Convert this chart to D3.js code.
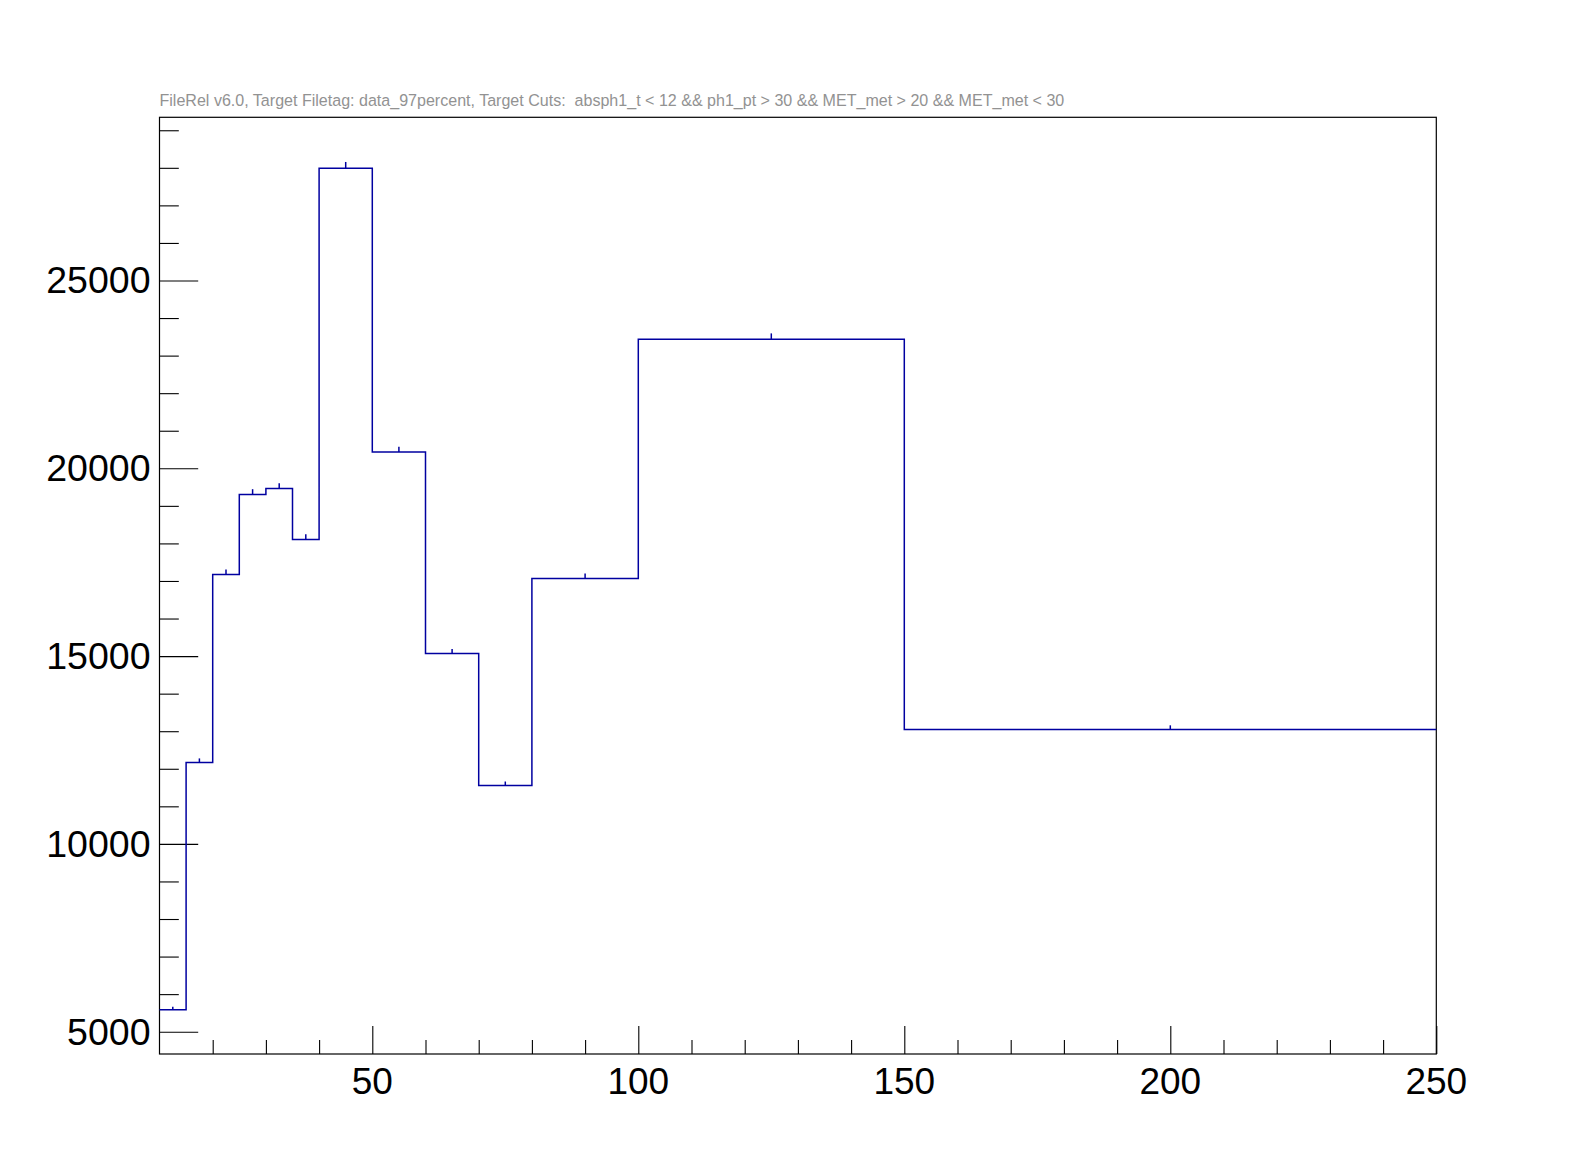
<!DOCTYPE html>
<html>
<head>
<meta charset="utf-8">
<script src="https://cdn.jsdelivr.net/npm/d3@7"></script>
<style>
  html, body { margin: 0; padding: 0; background: #fff; }
  svg { display: block; }
  text { font-family: "Liberation Sans", Arial, Helvetica, sans-serif; }
</style>
</head>
<body>
<svg id="chart" width="1596" height="1172"></svg>
<script>
// ---- data ----
const binEdges = [10, 15, 20, 25, 30, 35, 40, 50, 60, 70, 80, 100, 150, 250];
const binValues = [5586, 12166, 17174, 19305, 19465, 18106, 27989, 20432, 15069, 11553, 17067, 23439, 13043];
const binErrors = [75, 110, 131, 139, 140, 135, 167, 143, 123, 108, 131, 153, 114];
const xMajorTicks = [50, 100, 150, 200, 250];
const xMinorTicks = [20, 30, 40, 60, 70, 80, 90, 110, 120, 130, 140, 160, 170, 180, 190, 210, 220, 230, 240];
const yMajorTicks = [5000, 10000, 15000, 20000, 25000];
const yMinorTicks = [6000, 7000, 8000, 9000, 11000, 12000, 13000, 14000, 16000, 17000, 18000, 19000, 21000, 22000, 23000, 24000, 26000, 27000, 28000, 29000];
const xDomain = [10, 250];
const yDomain = [4406, 29345];
const titleText = "FileRel v6.0, Target Filetag: data_97percent, Target Cuts:  absph1_t < 12 && ph1_pt > 30 && MET_met > 20 && MET_met < 30";

// ---- layout ----
const frame = { left: 159.5, right: 1436.3, top: 117.3, bottom: 1054 };
const svg = d3.select("#chart");
svg.append("rect").attr("x", 0).attr("y", 0).attr("width", 1596).attr("height", 1172).attr("fill", "#fff");

const x = d3.scaleLinear().domain(xDomain).range([frame.left, frame.right]);
const y = d3.scaleLinear().domain(yDomain).range([frame.bottom, frame.top]);

// frame
svg.append("rect")
  .attr("x", frame.left).attr("y", frame.top)
  .attr("width", frame.right - frame.left).attr("height", frame.bottom - frame.top)
  .attr("fill", "none").attr("stroke", "#000").attr("stroke-width", 1.2);

// x axis ticks (pointing up into the frame)
const gx = svg.append("g").attr("transform", `translate(0,${frame.bottom})`);
gx.call(d3.axisBottom(x).tickValues(xMinorTicks).tickSize(-14).tickFormat(""));
gx.append("g").call(d3.axisBottom(x).tickValues(xMajorTicks).tickSize(-28).tickFormat(""));
gx.selectAll(".domain").remove();
gx.selectAll("line").attr("stroke", "#000").attr("stroke-width", 1.1);

// x labels
svg.append("g").selectAll("text").data(xMajorTicks).join("text")
  .attr("x", d => x(d)).attr("y", frame.bottom + 40)
  .attr("text-anchor", "middle").attr("font-size", 37).attr("fill", "#000")
  .text(d => d);

// y axis ticks (pointing right into the frame)
const gy = svg.append("g").attr("transform", `translate(${frame.left},0)`);
gy.call(d3.axisLeft(y).tickValues(yMinorTicks).tickSize(-19.3).tickFormat(""));
gy.append("g").call(d3.axisLeft(y).tickValues(yMajorTicks).tickSize(-38.7).tickFormat(""));
gy.selectAll(".domain").remove();
gy.selectAll("line").attr("stroke", "#000").attr("stroke-width", 1.1);

// y labels
svg.append("g").selectAll("text").data(yMajorTicks).join("text")
  .attr("x", 150.5).attr("y", d => y(d) + 13)
  .attr("text-anchor", "end").attr("font-size", 37.5).attr("fill", "#000")
  .text(d => d);

// histogram step line
const bins = binValues.map((v, i) => ({ x0: binEdges[i], x1: binEdges[i + 1], v, e: binErrors[i] }));
let pathD = "";
bins.forEach((b, i) => {
  if (i === 0) pathD += `M${x(b.x0)},${y(b.v)}`;
  else pathD += `L${x(b.x0)},${y(b.v)}`;
  pathD += `L${x(b.x1)},${y(b.v)}`;
});
svg.append("path").attr("d", pathD)
  .attr("fill", "none").attr("stroke", "#0000a0").attr("stroke-width", 1.5);

// error ticks at bin centres
svg.append("g").selectAll("line").data(bins).join("line")
  .attr("x1", d => x((d.x0 + d.x1) / 2)).attr("x2", d => x((d.x0 + d.x1) / 2))
  .attr("y1", d => y(d.v)).attr("y2", d => y(d.v + d.e))
  .attr("stroke", "#0000a0").attr("stroke-width", 1.5);

// title
const t = svg.append("text")
  .attr("x", 159.5).attr("y", 105.5)
  .attr("font-size", 14).attr("fill", "#929292")
  .attr("xml:space", "preserve").style("white-space", "pre")
  .text(titleText);
const targetW = 906;
const w = t.node().getComputedTextLength();
if (w > 0) t.attr("font-size", 14 * targetW / w);
</script>
</body>
</html>
